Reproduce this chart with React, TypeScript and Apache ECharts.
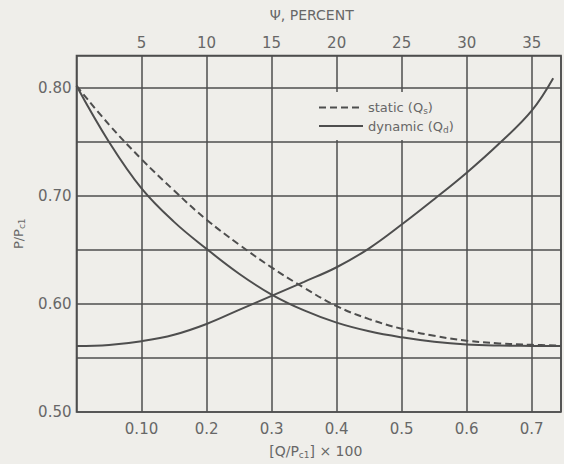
import React, { useEffect, useRef } from "react";
import * as echarts from "echarts";

// Q/Pc1 x 100 positions for the two falling curves
const qFalling = [0, 0.05, 0.1, 0.15, 0.2, 0.25, 0.3, 0.35, 0.4, 0.45, 0.5, 0.55, 0.6, 0.65, 0.7, 0.745];
const staticQs = [0.802, 0.766, 0.734, 0.705, 0.678, 0.655, 0.6338, 0.615, 0.598, 0.586, 0.577, 0.5705, 0.566, 0.5635, 0.5622, 0.5615];
const dynamicQdFalling = [0.802, 0.75, 0.707, 0.676, 0.651, 0.628, 0.6087, 0.594, 0.5827, 0.5747, 0.5691, 0.565, 0.5625, 0.5615, 0.5612, 0.561];

// Rising dynamic curve
const qRising = [0, 0.05, 0.1, 0.15, 0.2, 0.25, 0.3, 0.35, 0.4, 0.45, 0.5, 0.55, 0.6, 0.65, 0.7, 0.733];
const dynamicQdRising = [0.561, 0.562, 0.5655, 0.5715, 0.5815, 0.5945, 0.6075, 0.6205, 0.634, 0.6515, 0.6735, 0.697, 0.7215, 0.7485, 0.779, 0.809];

// Tick labels
const bottomTicks = [0.1, 0.2, 0.3, 0.4, 0.5, 0.6, 0.7];
const bottomTickLabels = ["0.10", "0.2", "0.3", "0.4", "0.5", "0.6", "0.7"];
const leftTicks = [0.5, 0.6, 0.7, 0.8];
const leftTickLabels = ["0.50", "0.60", "0.70", "0.80"];
const topTicks = [5, 10, 15, 20, 25, 30, 35];
const topTickLabels = ["5", "10", "15", "20", "25", "30", "35"];

const BG = "#efeeea";
const INK = "#4e4e4e";
const TXT = "#676767";
const FONT = "DejaVu Sans";

function labelFor(v: number, ticks: number[], labels: string[]) {
  const i = ticks.findIndex((t) => Math.abs(t - v) < 1e-6);
  return i >= 0 ? labels[i] : "";
}

const zip = (xs: number[], ys: number[]) => xs.map((x, i) => [x, ys[i]]);

export default function App() {
  const ref = useRef<HTMLDivElement>(null);
  useEffect(() => {
    if (!ref.current) return;
    const chart = echarts.init(ref.current, undefined, { renderer: "svg" });
    const sub = { fontSize: 9, padding: [7, 0, 0, 0], color: TXT, fontFamily: FONT };
    chart.setOption({
      animation: false,
      backgroundColor: BG,
      textStyle: { fontFamily: FONT },
      grid: {
        left: 76.5,
        right: 3,
        top: 55.5,
        bottom: 52,
        show: true,
        borderColor: INK,
        borderWidth: 1.6,
        backgroundColor: "transparent",
      },
      legend: {
        data: ["static", "dynamic"],
        orient: "vertical",
        left: 313,
        top: 96,
        itemWidth: 44,
        itemHeight: 14,
        itemGap: 4,
        itemStyle: { opacity: 0 },
        lineStyle: { width: 2 },
        formatter: (name: string) => (name === "static" ? "static (Q{sub|s})" : "dynamic (Q{sub|d})"),
        textStyle: { fontSize: 13, color: TXT, fontFamily: FONT, rich: { sub } },
      },
      graphic: [
        {
          type: "rect",
          z: 1,
          shape: { x: 285, y: 92, width: 178, height: 48 },
          style: { fill: BG },
        },
      ],
      xAxis: [
        {
          type: "value",
          position: "bottom",
          min: 0,
          max: 0.745,
          interval: 0.1,
          axisLine: { show: false },
          axisTick: { show: false },
          splitLine: { show: true, lineStyle: { color: INK, width: 1.5 } },
          axisLabel: {
            color: TXT,
            fontSize: 15,
            margin: 9,
            fontFamily: FONT,
            showMaxLabel: false,
            formatter: (v: number) => labelFor(v, bottomTicks, bottomTickLabels),
          },
          name: "[Q/P{sub|c1}] × 100",
          nameLocation: "middle",
          nameGap: 31,
          nameTextStyle: { color: TXT, fontSize: 14, fontFamily: FONT, padding: [0, 6, 0, 0], rich: { sub } },
        },
        {
          type: "value",
          position: "top",
          min: 0,
          max: 0.745 * 50,
          interval: 5,
          axisLine: { show: false },
          axisTick: { show: false },
          splitLine: { show: false },
          axisLabel: {
            color: TXT,
            fontSize: 15,
            margin: 5,
            fontFamily: FONT,
            showMaxLabel: false,
            formatter: (v: number) => labelFor(v, topTicks, topTickLabels),
          },
          name: "Ψ, PERCENT",
          nameLocation: "middle",
          nameGap: 34,
          nameTextStyle: { color: TXT, fontSize: 14, fontFamily: FONT, padding: [0, 14, 0, 0] },
        },
      ],
      yAxis: {
        type: "value",
        min: 0.5,
        max: 0.83,
        interval: 0.05,
        axisLine: { show: false },
        axisTick: { show: false },
        splitLine: { show: true, lineStyle: { color: INK, width: 1.5 } },
        axisLabel: {
          color: TXT,
          fontSize: 15,
          margin: 5,
          fontFamily: FONT,
          showMaxLabel: false,
          formatter: (v: number) => labelFor(v, leftTicks, leftTickLabels),
        },
        name: "P/P{sub|c1}",
        nameLocation: "middle",
        nameGap: 50,
        nameTextStyle: { color: TXT, fontSize: 13, fontFamily: FONT, rich: { sub } },
      },
      series: [
        {
          name: "static",
          type: "line",
          data: zip(qFalling, staticQs),
          smooth: 0.4,
          showSymbol: false,
          symbol: "none",
          lineStyle: { color: INK, width: 2, type: [7, 4] },
          itemStyle: { color: INK },
          z: 3,
        },
        {
          name: "dynamic",
          type: "line",
          data: zip(qFalling, dynamicQdFalling),
          smooth: 0.4,
          showSymbol: false,
          symbol: "none",
          lineStyle: { color: INK, width: 2 },
          itemStyle: { color: INK },
          z: 3,
        },
        {
          name: "dynamic",
          type: "line",
          data: zip(qRising, dynamicQdRising),
          smooth: 0.4,
          showSymbol: false,
          symbol: "none",
          lineStyle: { color: INK, width: 2 },
          itemStyle: { color: INK },
          z: 3,
        },
      ],
    });
    return () => chart.dispose();
  }, []);
  return <div ref={ref} style={{ position: "fixed", left: 0, top: 0, width: 564, height: 464 }} />;
}
